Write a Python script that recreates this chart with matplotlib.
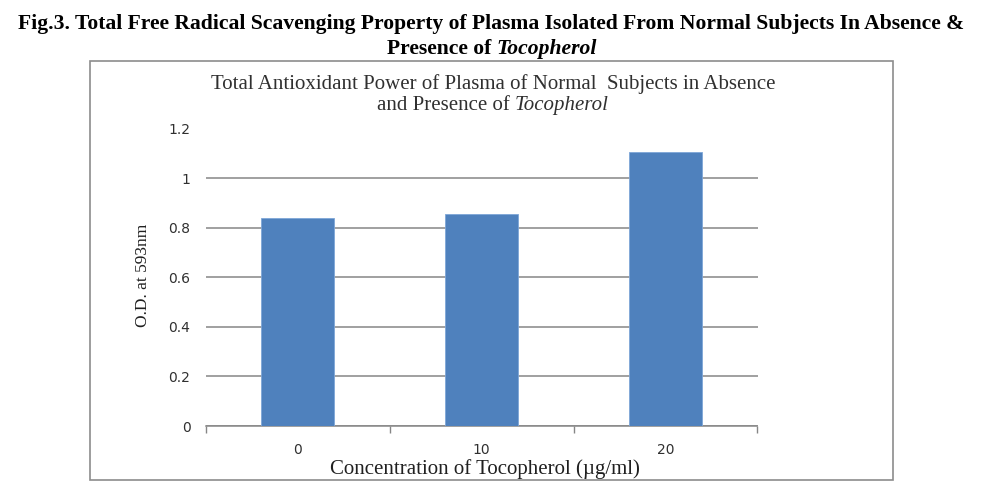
import matplotlib
matplotlib.use("Agg")
import matplotlib.pyplot as plt
from matplotlib.patches import Rectangle

categories = ["0", "10", "20"]
values = [0.84, 0.855, 1.105]
yticks = [0, 0.2, 0.4, 0.6, 0.8, 1, 1.2]
ytick_labels = ["0", "0.2", "0.4", "0.6", "0.8", "1", "1.2"]

W, H = 1000, 487
fig = plt.figure(figsize=(W / 100, H / 100), dpi=100)
fig.patch.set_facecolor("white")

def px(x, y):
    return x / W, 1 - y / H

# chart border
bx0, by0 = px(90, 480)
bx1, by1 = px(893, 61)
fig.add_artist(Rectangle((bx0, by0), bx1 - bx0, by1 - by0, transform=fig.transFigure,
                         fill=False, edgecolor="#8c8c8c", linewidth=1.2))

# axes
left, bottom = px(205.7, 426)
right, top = px(757.5, 128.5)
ax = fig.add_axes([left, bottom, right - left, top - bottom])
ax.set_facecolor("none")
xs = list(range(len(categories)))
ax.bar(xs, values, width=0.4, color="#4F81BD", edgecolor="#7ea6d8", linewidth=0.6, zorder=3)
ax.set_xlim(-0.5, len(categories) - 0.5)
ax.set_ylim(0, 1.2)
ax.set_yticks(yticks)
ax.set_yticklabels(ytick_labels)
ax.set_xticks(xs)
ax.set_xticklabels(categories)
ax.set_xticks([i - 0.5 for i in range(len(categories) + 1)], minor=True)
ax.tick_params(axis="x", which="major", length=0, pad=12, labelsize=10, labelcolor="#303030",
               labelfontfamily="DejaVu Sans")
ax.tick_params(axis="x", which="minor", length=5, color="#868686", width=1)
ax.tick_params(axis="y", length=0, pad=11, labelsize=10, labelcolor="#303030",
               labelfontfamily="DejaVu Sans")
ax.yaxis.grid(True, color="#868686", linewidth=1.1, zorder=0)
ax.set_axisbelow(True)
gl = ax.yaxis.get_gridlines()
gl[-1].set_visible(False)
for s in ["top", "right", "left"]:
    ax.spines[s].set_visible(False)
ax.spines["bottom"].set_color("#868686")
ax.spines["bottom"].set_linewidth(1.1)

serif = "Liberation Serif"

# axis labels
fig.text(*px(143, 275), "O.D. at 593nm", rotation=90, ha="center", va="center",
         family=serif, fontsize=12.5, color="#202020")
fig.text(*px(485, 469), "Concentration of Tocopherol (\u00b5g/ml)", ha="center", va="center",
         family=serif, fontsize=15, color="#202020")

# main title
fig.text(*px(491, 24), "Fig.3. Total Free Radical Scavenging Property of Plasma Isolated From Normal Subjects In Absence &",
         ha="center", va="center", family=serif, fontsize=15.6, weight="bold", color="black")

renderer = fig.canvas.get_renderer()

def two_part(xc, yc, a, b, kw_a, kw_b):
    ta = fig.text(0, 0, a, va="baseline", ha="left", **kw_a)
    tb = fig.text(0, 0, b, va="baseline", ha="left", **kw_b)
    wa = ta.get_window_extent(renderer).width
    wb = tb.get_window_extent(renderer).width
    x0 = xc - (wa + wb) / 2
    fx, fy = px(x0, yc)
    ta.set_position((fx, fy))
    tb.set_position((fx + wa / W, fy))

two_part(492, 54, "Presence of ", "Tocopherol",
         dict(family=serif, fontsize=15.6, weight="bold", color="black"),
         dict(family=serif, fontsize=15.6, weight="bold", style="italic", color="black"))

# chart title
fig.text(*px(493, 89), "Total Antioxidant Power of Plasma of Normal  Subjects in Absence",
         ha="center", va="baseline", family=serif, fontsize=15, color="#303030")
two_part(493, 110, "and Presence of ", "Tocopherol",
         dict(family=serif, fontsize=15, color="#303030"),
         dict(family=serif, fontsize=15, style="italic", color="#303030"))

fig.savefig("out.png", dpi=100, facecolor="white")
